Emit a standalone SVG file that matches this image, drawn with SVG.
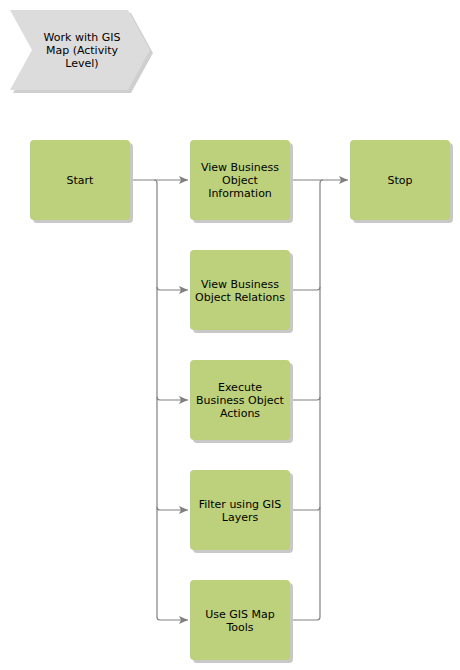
<svg xmlns="http://www.w3.org/2000/svg" width="460" height="670" viewBox="0 0 460 670">
<defs>
<style>
.box{fill:#bdd17c}
.sh{fill:#c8c8c8}
.t{font-family:"DejaVu Sans",Verdana,sans-serif;font-size:11px;fill:#000;text-anchor:middle}
.c{fill:none;stroke:#808080;stroke-width:1.2}
</style>
<marker id="ah" markerWidth="10" markerHeight="8" refX="9" refY="4" orient="auto" markerUnits="userSpaceOnUse">
<path d="M0,0 L9,4 L0,8 L2,4 Z" fill="#808080"/>
</marker>
</defs>
<rect width="460" height="670" fill="#fff"/>
<g id="title">
<polygon points="13,13 131,13 153,53 131,93 13,93 35,53" fill="#cfcfcf"/>
<polygon points="10,10 128,10 150,50 128,90 10,90 32,50" fill="#dcdcdc"/>
<text class="t" x="82" y="41">Work with GIS</text>
<text class="t" x="82" y="54">Map (Activity</text>
<text class="t" x="82" y="67">Level)</text>
</g>
<g id="connectors">
<path class="c" d="M130,180 H188" marker-end="url(#ah)"/>
<path class="c" d="M154,180 Q157,180 157,183 V617 Q157,620 160,620 H188" marker-end="url(#ah)"/>
<path class="c" d="M157,287 Q157,290 160,290 H188" marker-end="url(#ah)"/>
<path class="c" d="M157,397 Q157,400 160,400 H188" marker-end="url(#ah)"/>
<path class="c" d="M157,507 Q157,510 160,510 H188" marker-end="url(#ah)"/>
<path class="c" d="M290,180 H348" marker-end="url(#ah)"/>
<path class="c" d="M290,620 H317 Q320,620 320,617 V183 Q320,180 323,180"/>
<path class="c" d="M290,290 H317 Q320,290 320,287"/>
<path class="c" d="M290,400 H317 Q320,400 320,397"/>
<path class="c" d="M290,510 H317 Q320,510 320,507"/>
</g>
<g id="start">
<rect class="sh" x="33" y="143" width="100" height="80" rx="4"/>
<rect class="box" x="30" y="140" width="100" height="80" rx="4"/>
<text class="t" x="80" y="184">Start</text>
</g>
<g id="view-info">
<rect class="sh" x="193" y="143" width="100" height="80" rx="4"/>
<rect class="box" x="190" y="140" width="100" height="80" rx="4"/>
<text class="t" x="240" y="171">View Business</text>
<text class="t" x="240" y="184">Object</text>
<text class="t" x="240" y="197">Information</text>
</g>
<g id="stop">
<rect class="sh" x="353" y="143" width="100" height="80" rx="4"/>
<rect class="box" x="350" y="140" width="100" height="80" rx="4"/>
<text class="t" x="400" y="184">Stop</text>
</g>
<g id="view-relations">
<rect class="sh" x="193" y="253" width="100" height="80" rx="4"/>
<rect class="box" x="190" y="250" width="100" height="80" rx="4"/>
<text class="t" x="240" y="288">View Business</text>
<text class="t" x="240" y="301">Object Relations</text>
</g>
<g id="execute-actions">
<rect class="sh" x="193" y="363" width="100" height="80" rx="4"/>
<rect class="box" x="190" y="360" width="100" height="80" rx="4"/>
<text class="t" x="240" y="391">Execute</text>
<text class="t" x="240" y="404">Business Object</text>
<text class="t" x="240" y="417">Actions</text>
</g>
<g id="filter-layers">
<rect class="sh" x="193" y="473" width="100" height="80" rx="4"/>
<rect class="box" x="190" y="470" width="100" height="80" rx="4"/>
<text class="t" x="240" y="508">Filter using GIS</text>
<text class="t" x="240" y="521">Layers</text>
</g>
<g id="map-tools">
<rect class="sh" x="193" y="583" width="100" height="80" rx="4"/>
<rect class="box" x="190" y="580" width="100" height="80" rx="4"/>
<text class="t" x="240" y="618">Use GIS Map</text>
<text class="t" x="240" y="631">Tools</text>
</g>
</svg>
